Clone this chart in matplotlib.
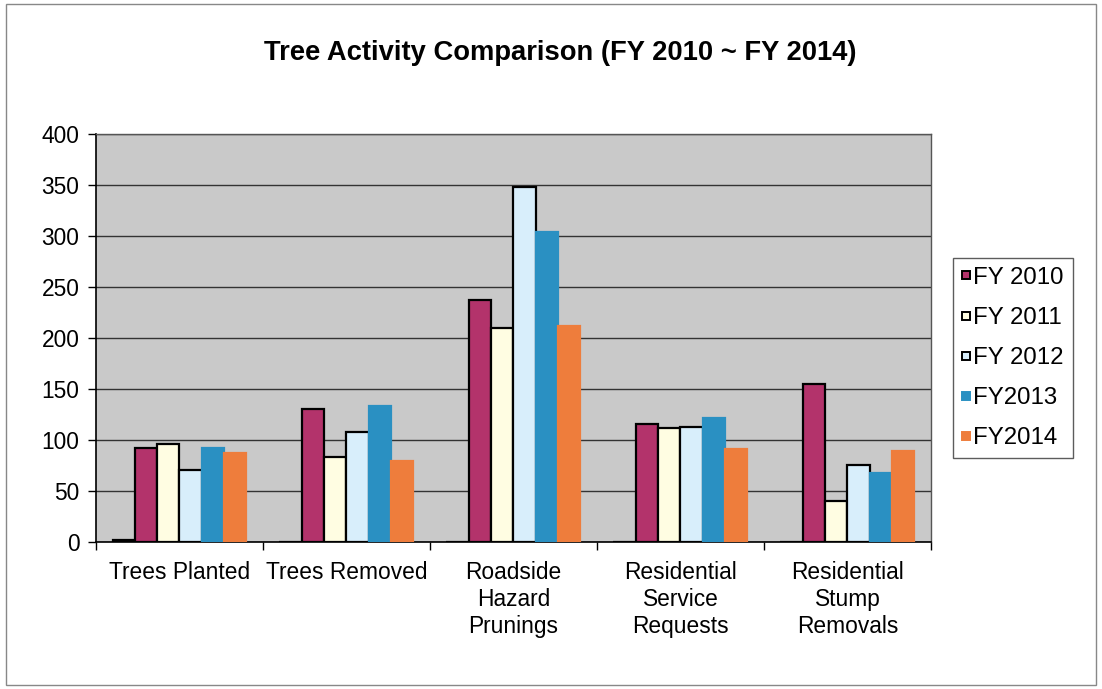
import matplotlib
matplotlib.use("Agg")
import matplotlib.pyplot as plt
from matplotlib.patches import Rectangle
from matplotlib.lines import Line2D
import numpy as np

plt.rcParams['font.family'] = ['Liberation Sans', 'DejaVu Sans']

categories = ["Trees Planted", "Trees Removed", "Roadside\nHazard\nPrunings",
              "Residential\nService\nRequests", "Residential\nStump\nRemovals"]
series_names = ["", "FY 2010", "FY 2011", "FY 2012", "FY2013", "FY2014"]
extra = [2, 0, 0, 0, 0]
fy2010 = [92, 130, 237, 116, 155]
fy2011 = [96, 83, 210, 112, 40]
fy2012 = [71, 108, 348, 113, 75]
fy2013 = [92, 133, 304, 122, 68]
fy2014 = [87, 79, 212, 91, 89]
yticks = [0, 50, 100, 150, 200, 250, 300, 350, 400]

series = [extra, fy2010, fy2011, fy2012, fy2013, fy2014]
fills = ["#3A1E22", "#B3336B", "#FFFDE2", "#D8EEFB", "#2A90C2", "#EE7D3C"]
edges = ["black", "black", "black", "black", "#2A90C2", "#EE7D3C"]

fig = plt.figure(figsize=(11.02, 6.89), dpi=100)
fig.patch.set_facecolor("white")
ax = fig.add_axes([0.0871, 0.2134, 0.7577, 0.5921])
ax.set_facecolor("#C9C9C9")

n = len(series)
bar_w = 0.1337
start = (1 - n * bar_w) / 2
x0 = np.arange(len(categories))
for k, (vals, fc, ec, name) in enumerate(zip(series, fills, edges, series_names)):
    xs = x0 + start + k * bar_w
    ax.bar(xs, vals, width=bar_w, align="edge", color=fc, edgecolor=ec,
           linewidth=1.6, zorder=3, label=name if name else "_nolegend_")

ax.set_xlim(0, len(categories))
ax.set_ylim(0, 400)
ax.set_yticks(yticks)
ax.set_yticklabels([str(v) for v in yticks], fontsize=16.4)
ax.set_xticks(np.arange(len(categories) + 1))
ax.set_xticklabels([])
ax.set_xticks(x0 + 0.5, minor=True)
ax.set_xticklabels(categories, minor=True, fontsize=16.4, linespacing=1.2,
                   va="top", ha="center")
ax.tick_params(axis="x", which="minor", length=0, pad=14)
ax.tick_params(axis="x", which="major", direction="out", length=6, width=1)
ax.tick_params(axis="y", direction="out", length=6, width=1, pad=6)

ax.yaxis.grid(True, color="#333333", linewidth=1.0, zorder=1)
ax.set_axisbelow(True)
for side in ["left", "bottom"]:
    ax.spines[side].set_color("black")
    ax.spines[side].set_linewidth(1.2)
for side in ["top", "right"]:
    ax.spines[side].set_color("#555555")
    ax.spines[side].set_linewidth(1.0)

fig.text(0.508, 0.923, "Tree Activity Comparison (FY 2010 ~ FY 2014)",
         ha="center", va="center", fontsize=19.7, fontweight="bold")

handles = [Line2D([], [], linestyle="none", marker="s", markersize=6.2,
                  markerfacecolor=fc, markeredgecolor=("black" if k < 4 else fc),
                  markeredgewidth=1.4)
           for k, fc in enumerate(fills)][1:]
leg = fig.legend(handles, series_names[1:], loc="upper left",
                 bbox_to_anchor=(953 / 1102, 1 - 258 / 689),
                 fontsize=17.3, frameon=True, fancybox=False,
                 handlelength=0.38, handletextpad=0.1,
                 labelspacing=0.75, borderpad=0.37, borderaxespad=0)
leg.get_frame().set_edgecolor("#333333")
leg.get_frame().set_linewidth(1.0)

fig.patches.append(Rectangle((0.005, 0.006), 0.99, 0.988, transform=fig.transFigure,
                             fill=False, edgecolor="#888888", linewidth=1.0))

fig.savefig("out.png", dpi=100)
